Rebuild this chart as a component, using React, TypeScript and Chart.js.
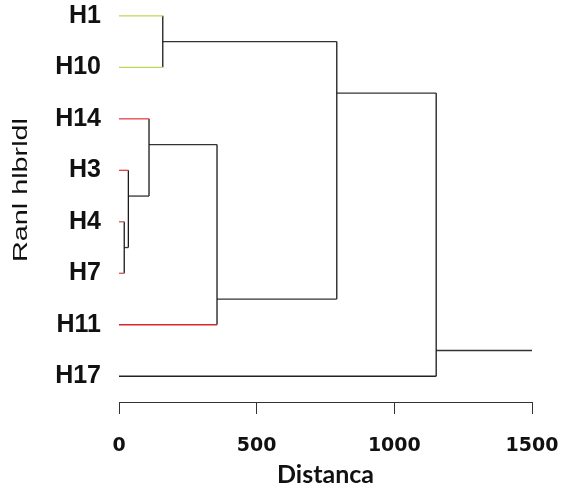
import { useEffect, useRef } from 'react';
import { Chart, registerables } from 'chart.js';
Chart.register(...registerables);

// Leaves, top to bottom (y index = position in this list)
const leaves = ['H1', 'H10', 'H14', 'H3', 'H4', 'H7', 'H11', 'H17'];
const leafColors = ['#bcd858', '#bcd858', '#e2424a', '#e2424a', '#c25a5a', '#c25a5a', '#d8262e', '#222222'];

// Merges: children (L = leaf index, N = merge index), merge distance, drawn position
const mergeLeft = ['L4', 'L3', 'L2', 'N2', 'L0', 'N4', 'N5'];
const mergeRight = ['L5', 'N0', 'N1', 'L6', 'L1', 'N3', 'L7'];
const mergeHeight = [19, 34, 109, 356, 159, 791, 1152];
const mergePosition = [4.5, 3.5, 2.5, 5.5, 0.5, 1.5, 6.5];
const rootTailTo = 1500;

const xTicks = [0, 500, 1000, 1500];
const xTitle = 'Distanca';
const yTitle = 'Ranl hlbrldl';

const INNER = '#333333';

function nodeInfo(ref: string) {
  const i = parseInt(ref.slice(1), 10);
  if (ref[0] === 'L') return { h: 0, y: i, color: leafColors[i] };
  return { h: mergeHeight[i], y: mergePosition[i], color: INNER };
}

function buildDatasets() {
  const ds: any[] = [];
  const seg = (a: any, b: any, color: string) =>
    ds.push({
      data: [a, b],
      borderColor: color,
      borderWidth: 1.3,
      showLine: true,
      pointRadius: 0,
      tension: 0,
    });
  mergeHeight.forEach((H, i) => {
    const l = nodeInfo(mergeLeft[i]);
    const r = nodeInfo(mergeRight[i]);
    seg({ x: l.h, y: l.y }, { x: H, y: l.y }, l.color);
    seg({ x: r.h, y: r.y }, { x: H, y: r.y }, r.color);
    seg({ x: H, y: l.y }, { x: H, y: r.y }, '#1a1a1a');
  });
  const last = mergeHeight.length - 1;
  seg({ x: mergeHeight[last], y: mergePosition[last] }, { x: rootTailTo, y: mergePosition[last] }, INNER);
  return ds;
}

const yTitlePlugin = {
  id: 'yTitlePlugin',
  afterDraw(chart: any) {
    const { ctx } = chart;
    ctx.save();
    ctx.font = '21px "Liberation Sans", Arial, sans-serif';
    ctx.fillStyle = '#111';
    ctx.textAlign = 'center';
    ctx.textBaseline = 'middle';
    const w = ctx.measureText(yTitle).width;
    const sx = 144 / w;
    ctx.translate(21, 190);
    ctx.rotate(-Math.PI / 2);
    ctx.scale(sx, 1);
    ctx.fillText(yTitle, 0, 0);
    ctx.restore();
  },
};

export default function App() {
  const ref = useRef<HTMLCanvasElement | null>(null);
  useEffect(() => {
    if (!ref.current) return;
    const chart = new Chart(ref.current, {
      type: 'scatter',
      data: { datasets: buildDatasets() },
      plugins: [yTitlePlugin],
      options: {
        animation: false,
        responsive: false,
        events: [],
        layout: { padding: { top: 3, right: 31, left: 0, bottom: 0 } },
        plugins: { legend: { display: false }, tooltip: { enabled: false } },
        scales: {
          x: {
            type: 'linear',
            min: 0,
            max: 1500,
            afterBuildTicks: (s: any) => {
              s.ticks = xTicks.map((v) => ({ value: v }));
            },
            afterFit: (s: any) => {
              s.height = 86;
              s.paddingLeft = 0;
              s.paddingRight = 0;
            },
            ticks: {
              color: '#111',
              font: { family: '"DejaVu Sans"', weight: 'bold', size: 19 },
              padding: 21,
              callback: (v: any) => String(v),
            },
            grid: { display: true, drawOnChartArea: false, drawTicks: true, tickLength: 12, color: INNER, lineWidth: 1 },
            border: { display: true, color: INNER, width: 1 },
            title: {
              display: true,
              text: xTitle,
              color: '#111',
              font: { family: 'Lato', weight: 'bold', size: 25, lineHeight: 1 },
              padding: { top: 0, bottom: 0.5 },
            },
          },
          y: {
            type: 'linear',
            reverse: true,
            min: -0.25,
            max: 7.5,
            afterFit: (s: any) => {
              s.width = 119;
              s.paddingTop = 0;
              s.paddingBottom = 0;
            },
            afterBuildTicks: (s: any) => {
              s.ticks = leaves.map((_, i) => ({ value: i }));
            },
            ticks: {
              color: '#111',
              font: { family: '"Liberation Sans", Arial, sans-serif', weight: 'bold', size: 25 },
              padding: 18,
              callback: (v: any) => leaves[v as number] ?? '',
            },
            grid: { display: false, drawTicks: false },
            border: { display: false },
          },
        },
      },
    });
    return () => chart.destroy();
  }, []);
  return (
    <div style={{ position: 'absolute', left: 0, top: 0, width: 563, height: 488, background: '#fff' }}>
      <canvas ref={ref} width={563} height={488} style={{ width: 563, height: 488, display: 'block' }} />
    </div>
  );
}
